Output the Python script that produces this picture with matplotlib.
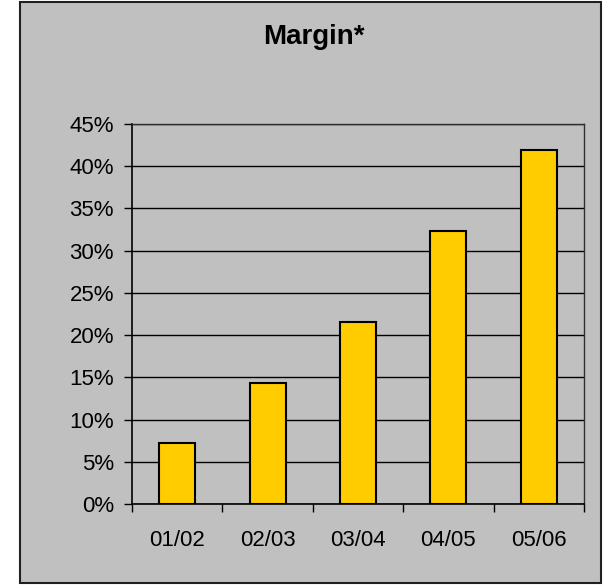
import matplotlib

matplotlib.use("Agg")

import matplotlib.pyplot as plt
import numpy as np
from matplotlib.patches import Rectangle
from matplotlib.ticker import FuncFormatter, MultipleLocator

# values
periods = ["01/02", "02/03", "03/04", "04/05", "05/06"]
margin_pct = [7.2, 14.3, 21.6, 32.3, 41.9]

BG = "#C0C0C0"
BAR = "#FFCC00"

plt.rcParams["font.family"] = ["Liberation Sans", "DejaVu Sans"]

fig = plt.figure(figsize=(6.04, 5.85), dpi=100, facecolor="white")

# chart frame (grey box with dark border), kept behind the axes
frame = Rectangle(
    (20 / 604, 1 - 583 / 585),
    (601 - 20) / 604,
    (583 - 2) / 585,
    transform=fig.transFigure,
    facecolor=BG,
    edgecolor="#202020",
    linewidth=1.5,
    zorder=-10,
)
fig.patches.append(frame)

ax = fig.add_axes([132 / 604, 1 - 504 / 585, (584 - 132) / 604, 380 / 585])
ax.set_facecolor(BG)

x = np.arange(len(periods))
ax.bar(x, margin_pct, width=0.4, color=BAR, edgecolor="black", linewidth=1.5, zorder=3)

ax.set_xlim(-0.5, len(periods) - 0.5)
ax.set_ylim(0, 45)
ax.yaxis.set_major_locator(MultipleLocator(5))
ax.yaxis.set_major_formatter(FuncFormatter(lambda v, _: f"{v:.0f}%"))
ax.grid(axis="y", color="black", linewidth=1.0, zorder=1)

# category labels centred, tick marks on the boundaries
ax.set_xticks(x)
ax.set_xticklabels(periods)
ax.set_xticks(np.arange(-0.5, len(periods)), minor=True)
ax.tick_params(axis="x", which="major", length=0, pad=19, labelsize=16)
ax.tick_params(axis="x", which="minor", length=6, width=1, color="black")
ax.tick_params(axis="y", length=6, width=1, pad=7, labelsize=16)

for side in ("left", "bottom"):
    ax.spines[side].set_color("black")
    ax.spines[side].set_linewidth(1.2)
for side in ("top", "right"):
    ax.spines[side].set_color("#303030")
    ax.spines[side].set_linewidth(1.0)

fig.text(314 / 604, 1 - 37 / 585, "Margin*", ha="center", va="center",
         fontsize=20, fontweight="bold")

fig.savefig("out.png", dpi=100, facecolor="white")
